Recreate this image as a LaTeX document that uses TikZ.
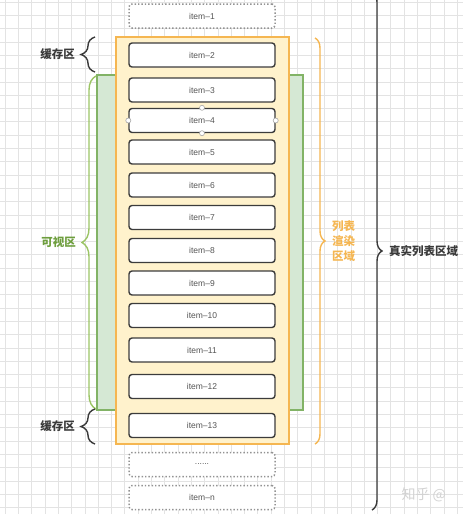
\documentclass[tikz,border=0pt]{standalone}
\usepackage{fontspec}
\setmainfont{Noto Sans CJK SC}
\newfontfamily\itemfont{Liberation Sans}
\usetikzlibrary{positioning}
\usetikzlibrary{decorations.pathreplacing}
\definecolor{gridgray}{HTML}{E3E3E3}
\definecolor{itemline}{HTML}{3C3C3C}
\definecolor{itemtext}{HTML}{555555}
\definecolor{renderfill}{HTML}{FFF2CC}
\definecolor{renderline}{HTML}{F5B651}
\definecolor{viewfill}{HTML}{D5E8D4}
\definecolor{viewline}{HTML}{82B366}
\definecolor{viewbrace}{HTML}{9BC465}
\definecolor{viewtext}{HTML}{6E9E3E}
\definecolor{realline}{HTML}{3A3A3A}

\begin{document}
\begin{tikzpicture}[x=1pt,y=-1pt,
    itembox/.style={draw=itemline, line width=1.4pt, rounded corners=3pt, fill=white,
        minimum width=146pt, minimum height=24pt, inner sep=0pt,
        font=\itemfont\fontsize{8.5}{10}\selectfont, text=itemtext},
    ghostbox/.style={itembox, draw=gray!85, dotted, line width=1.5pt},
    handle/.style={circle, draw=gray!70, fill=white, inner sep=0pt, minimum size=5pt, line width=0.6pt},
    bracket/.style={decorate, decoration={brace, amplitude=#1}, line width=1.4pt},
    bracket/.default=14pt,
    zonelabel/.style={font=\fontsize{11.5}{15}\selectfont\bfseries}]
    \useasboundingbox (0,0) rectangle (463,514);
    % Grid
    \foreach \g in {0,...,35}
        \draw[gridgray, line width=0.5pt] (\g*13.3+5,0) -- (\g*13.3+5,514);
    \foreach \g in {0,...,39}
        \draw[gridgray, line width=0.5pt] (0,\g*13.3+2) -- (463,\g*13.3+2);
    % Areas
    \node[draw=viewline, fill=viewfill, line width=1.4pt, minimum width=206pt, minimum height=335pt, inner sep=0pt]
        (view) at (200,242.5) {};
    \node[draw=renderline, fill=renderfill, line width=1.4pt, minimum width=173pt, minimum height=407pt, inner sep=0pt]
        (render) at (202.5,240.5) {};
    % Items
    \node[ghostbox] (item1) at (202,16) {item–1};
    \foreach \i/\y in {2/55, 3/90, 4/120.5, 5/152, 6/185, 7/217.5, 8/250.5, 9/283,
                       10/315.5, 11/350, 12/386.5, 13/425.5}
        \node[itembox] (item\i) at (202,\y) {item–\i};
    \node[ghostbox] (itemdots) at (202,464.5) {......};
    \node[ghostbox] (itemn) at (202,497.5) {item–n};
    % Selection handles
    \foreach \a in {north, south, west, east}
        \node[handle] at (item4.\a) {};
    % Braces
    \coordinate (cacheTopA) at (95,72);
    \coordinate (cacheTopB) at (95,37);
    \coordinate (viewA) at (96,409);
    \coordinate (viewB) at (96,76);
    \coordinate (cacheBotA) at (95,444);
    \coordinate (cacheBotB) at (95,409);
    \coordinate (renderA) at (315,38);
    \coordinate (renderB) at (315,444);
    \coordinate (realA) at (372,-8);
    \coordinate (realB) at (372,510);
    \draw[bracket, realline] (cacheTopA) -- (cacheTopB)
        node[midway, left=16pt, zonelabel, text=realline] (cacheTop) {缓存区};
    \draw[bracket, viewbrace] (viewA) -- (viewB)
        node[midway, left=16pt, zonelabel, text=viewtext] (visible) {可视区};
    \draw[bracket, realline] (cacheBotA) -- (cacheBotB)
        node[midway, left=16pt, zonelabel, text=realline] (cacheBottom) {缓存区};
    \draw[bracket=10pt, renderline] (renderA) -- (renderB)
        node[midway, right=13pt, zonelabel, text=renderline, align=center] (renderLabel) {列表\\渲染\\区域};
    \draw[bracket=10pt, realline] (realA) -- (realB)
        node[midway, right=13pt, zonelabel, text=realline] (realLabel) {真实列表区域};
    % Watermark
    \node[anchor=west, text=gray!35, font=\fontsize{14}{15}\selectfont] (mark) at (398,495) {知乎 @};
\end{tikzpicture}
\end{document}
